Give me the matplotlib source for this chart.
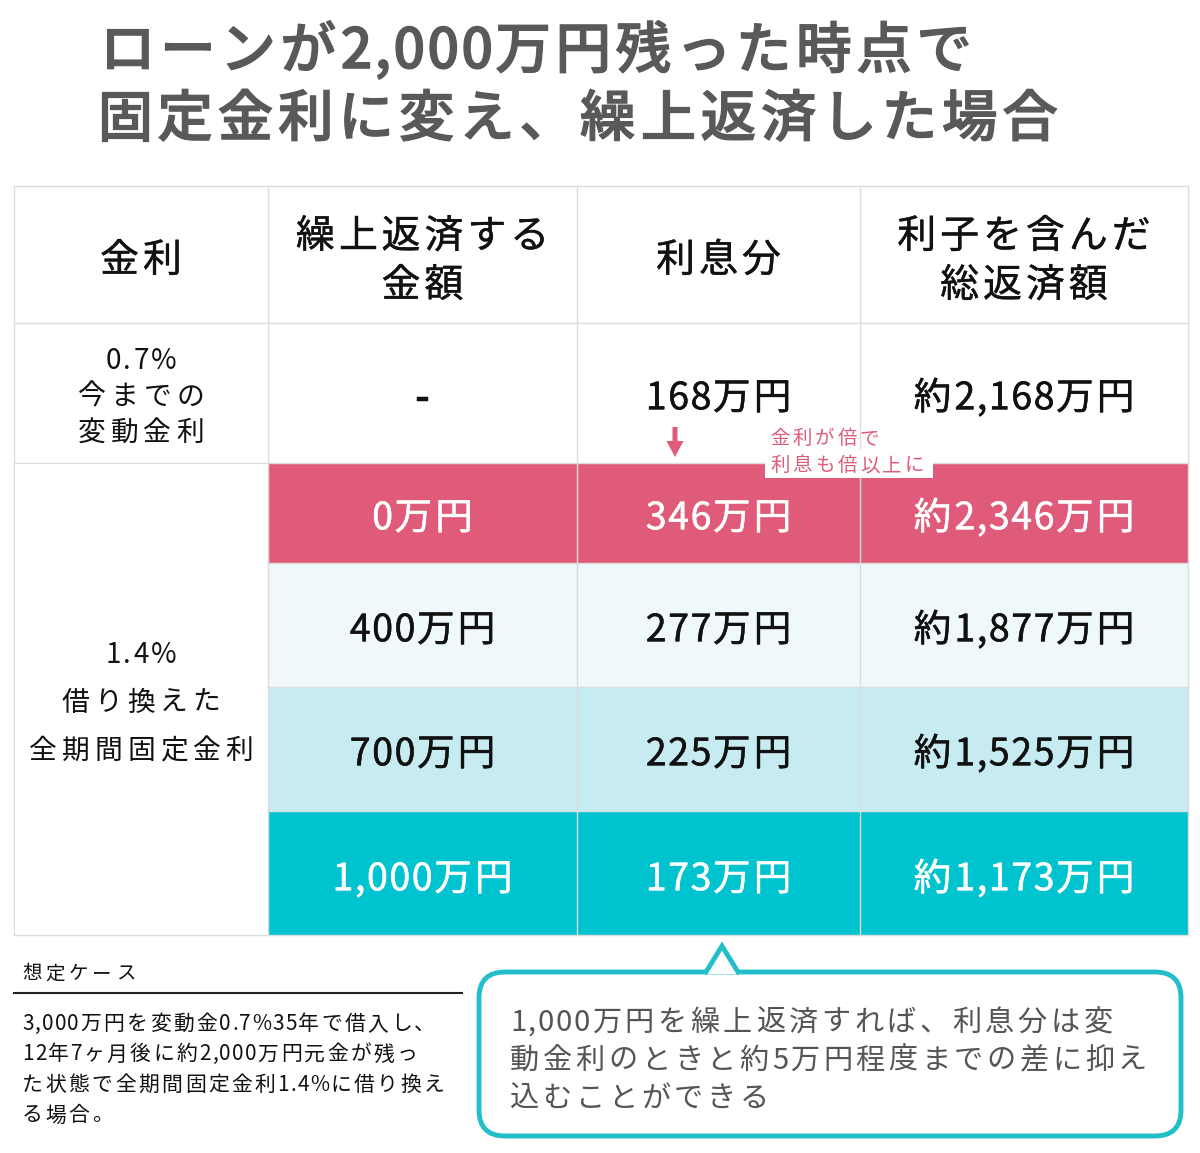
import matplotlib
matplotlib.use('Agg')
import matplotlib.pyplot as plot
import matplotlib.patheffects as pe
from matplotlib import font_manager
from matplotlib.font_manager import FontProperties
from matplotlib.patches import Rectangle, FancyBboxPatch, Polygon

plot.rcParams['font.family'] = ['Noto Sans CJK JP', 'DejaVu Sans']

title_lines = ['ローンが2,000万円残った時点で', '固定金利に変え、繰上返済した場合']
headers = ['金利', '繰上返済する\n金額', '利息分', '利子を含んだ\n総返済額']
current_rate_label = '0.7%\n今までの\n変動金利'
fixed_rate_label = '1.4%\n借り換えた\n全期間固定金利'
current_repay = '-'
current_interest = '168万円'
current_total = '約2,168万円'
repay_amounts = ['0万円', '400万円', '700万円', '1,000万円']
interest_amounts = ['346万円', '277万円', '225万円', '173万円']
total_amounts = ['約2,346万円', '約1,877万円', '約1,525万円', '約1,173万円']
note_text = '金利が倍で\n利息も倍以上に'
case_title = '想定ケース'
case_lines = ['3,000万円を変動金0.7%35年で借入し、',
              '12年7ヶ月後に約2,000万円元金が残っ',
              'た状態で全期間固定金利1.4%に借り換え',
              'る場合。']
callout_lines = ['1,000万円を繰上返済すれば、利息分は変',
                 '動金利のときと約5万円程度までの差に抑え',
                 '込むことができる']

row_colors = ['#E05B79', '#EFF8FA', '#C6EBF0', '#00C3D0']
row_text_colors = ['white', '#111111', '#111111', 'white']
pink = '#E05B79'
teal = '#22BEC9'
grid = '#DDDDDD'

col_x = [14, 268, 577, 860, 1188]
row_y = [186, 323, 463, 563, 687, 811, 935]

figure = plot.figure(figsize=(12, 11.53), dpi=100)
axes = figure.add_axes([0, 0, 1, 1])
axes.set_xlim(0, 1200)
axes.set_ylim(1153, 0)
axes.axis('off')


def advance(c, size, weight):
    path = font_manager.findfont(FontProperties(family='Noto Sans CJK JP', weight=weight))
    font = font_manager.get_font(path)
    font.set_size(size, 100)
    glyph = font.load_char(ord(c))
    return glyph.linearHoriAdvance / 65536


# draw text char by char so the letter spacing of the original is kept
# (narrow latin chars get half the gap); thick > 0 fattens the strokes a bit
def put(x, y, s, size, color, gap, ha='left', weight='normal', zorder=4, thick=0):
    widths = [advance(c, size, weight) for c in s]
    gaps = [gap * (0.5 if c.isascii() else 1.0) for c in s]
    total = sum(widths) + sum(gaps[:-1])
    start = x - total / 2 if ha == 'center' else x
    base = y + 0.38 * size * 100 / 72
    effects = [pe.withStroke(linewidth=thick, foreground=color)] if thick else None
    for c, w, g in zip(s, widths, gaps):
        axes.text(start, base, c, fontsize=size, color=color, fontweight=weight,
                  ha='left', va='baseline', zorder=zorder, path_effects=effects)
        start += w + g


def put_lines(x, ys, s, size, color, gap, ha='left', weight='normal', zorder=4, thick=0):
    for line, y in zip(s.split('\n'), ys):
        put(x, y, line, size, color, gap, ha, weight, zorder, thick)


# title
put(100, 47, title_lines[0], 40, '#595959', 4.6, weight='medium', thick=0.9)
put(97, 115, title_lines[1], 40, '#595959', 4.8, weight='medium', thick=0.9)

# coloured rows
for i in range(4):
    axes.add_patch(Rectangle((col_x[1], row_y[i + 2]), col_x[4] - col_x[1], row_y[i + 3] - row_y[i + 2],
                             facecolor=row_colors[i], edgecolor='none', zorder=1))

# grid lines
for x in col_x:
    axes.plot([x, x], [row_y[0], row_y[-1]], color=grid, lw=1, zorder=2)
for y in row_y:
    axes.plot([col_x[0], col_x[-1]], [y, y], color=grid, lw=1, zorder=2)
# merged label cell
axes.add_patch(Rectangle((col_x[0] + 1, row_y[2] + 1), col_x[1] - col_x[0] - 2, row_y[-1] - row_y[2] - 2,
                         facecolor='white', edgecolor='none', zorder=3))

# header
for j, h in enumerate(headers):
    cx = (col_x[j] + col_x[j + 1]) / 2
    if '\n' in h:
        put_lines(cx, [233, 282], h, 28, '#111111', 4, ha='center', thick=0.3)
    else:
        put(cx, 257, h, 28, '#111111', 4, ha='center', thick=0.3)

# current rate row
put_lines((col_x[0] + col_x[1]) / 2, [358, 394, 430], current_rate_label, 20, '#111111', 5, ha='center')
for j, v in enumerate([current_repay, current_interest, current_total]):
    put((col_x[j + 1] + col_x[j + 2]) / 2, 395, v, 27, '#111111', 3.2, ha='center',
        weight='bold' if v == '-' else 'normal', thick=0.35)

# fixed rate rows
put_lines((col_x[0] + col_x[1]) / 2, [652, 700, 748], fixed_rate_label, 20, '#111111', 5, ha='center')
value_y = [515, 627, 751, 876]
for i in range(4):
    for j, v in enumerate([repay_amounts[i], interest_amounts[i], total_amounts[i]]):
        put((col_x[j + 1] + col_x[j + 2]) / 2, value_y[i], v, 27, row_text_colors[i], 3.2, ha='center',
            thick=0.35)

# annotation arrow + note
axes.arrow(675, 427, 0, 30, width=5, head_width=17, head_length=16, length_includes_head=True,
           color=pink, lw=0, zorder=5)
axes.add_patch(Rectangle((765, 450), 168, 28, facecolor='white', edgecolor='none', zorder=4))
put_lines(770, [437, 464], note_text, 14, pink, 3, zorder=6)

# case box bottom-left
put(22, 972, case_title, 14, '#111111', 4)
axes.plot([14, 462], [993, 993], color='#222222', lw=1.5)
for k, line in enumerate(case_lines):
    put(22, 1022 + k * 30.5, line, 15, '#111111', 2.4)

# callout bubble
axes.add_patch(FancyBboxPatch((479, 972), 702, 164, boxstyle='round,pad=0,rounding_size=26',
                              facecolor='white', edgecolor=teal, lw=3.5, zorder=3))
axes.add_patch(Polygon([[706, 974], [722, 946], [738, 974]], closed=True, facecolor='white',
                       edgecolor='none', zorder=4))
axes.plot([706, 722, 738], [972, 946, 972], color=teal, lw=3.5, zorder=5, solid_joinstyle='miter')
for k, line in enumerate(callout_lines):
    put(510, 1020 + k * 38, line, 21, '#555555', 3.6, zorder=6)

figure.savefig('out.png', dpi=100)
